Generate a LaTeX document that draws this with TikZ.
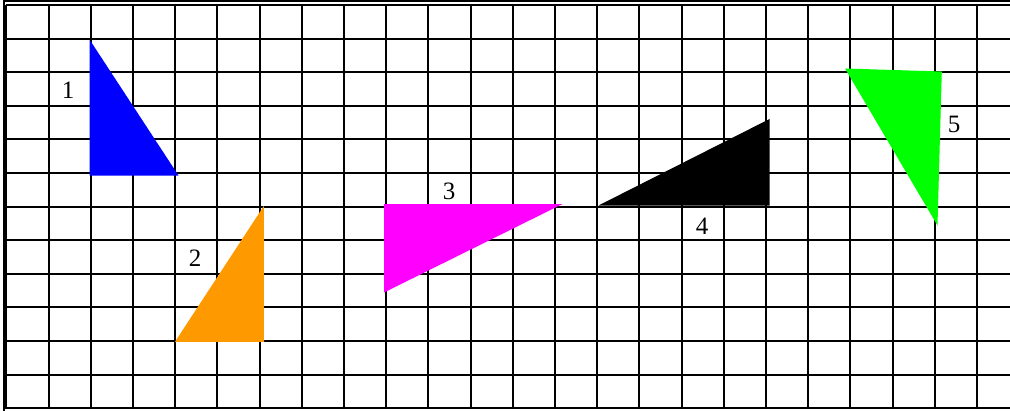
\documentclass[tikz,border=0pt]{standalone}
\usepackage{fontspec}
\setmainfont{Liberation Serif}
\definecolor{triblue}{RGB}{0,0,255}
\definecolor{triorange}{RGB}{255,153,0}
\definecolor{trimagenta}{RGB}{255,0,255}
\definecolor{trigreen}{RGB}{0,255,0}
\tikzset{
  gridline/.style={line width=2pt, black},
  frameline/.style={line width=1.8pt, black},
  tri/.style={draw=none},
  lbl/.style={font=\fontsize{25}{25}\selectfont, inner sep=0pt}
}
\begin{document}
\begin{tikzpicture}[x=1pt,y=-1pt]
\useasboundingbox (0,0) rectangle (1010,410);
\clip (0,0) rectangle (1010,410);
\fill[white] (0,0) rectangle (1010,410);
% outer frame
\draw[frameline] (3.6,420) -- (3.6,0.9) -- (1020,0.9);
% grid
\foreach \k in {0,...,23} {
  \draw[gridline] ({6.4+42.2*\k},4.8) -- ({6.4+42.2*\k},409);
}
\foreach \j in {0,...,12} {
  \draw[gridline] (6.4,{4.9+33.6*\j}) -- (1020,{4.9+33.6*\j});
}
% triangles
\fill[tri, triblue] (89.5,39.5) -- (89.5,175.5) -- (178.5,175.5) -- cycle;
\fill[tri, triorange] (263.8,206) -- (264,341.8) -- (175,341.8) -- cycle;
\fill[tri, trimagenta] (384,204) -- (562.5,204) -- (384,292.5) -- cycle;
\fill[tri, black] (598.5,205.5) -- (769.5,119) -- (769.5,205.5) -- cycle;
\fill[tri, trigreen] (845,68.5) -- (941.8,71.5) -- (937.5,225.5) -- cycle;
% labels
\node[lbl] (l1) at (68,90) {1};
\node[lbl] (l2) at (195,258) {2};
\node[lbl] (l3) at (449,191) {3};
\node[lbl] (l4) at (702,226) {4};
\node[lbl] (l5) at (954,124) {5};
\end{tikzpicture}
\end{document}
